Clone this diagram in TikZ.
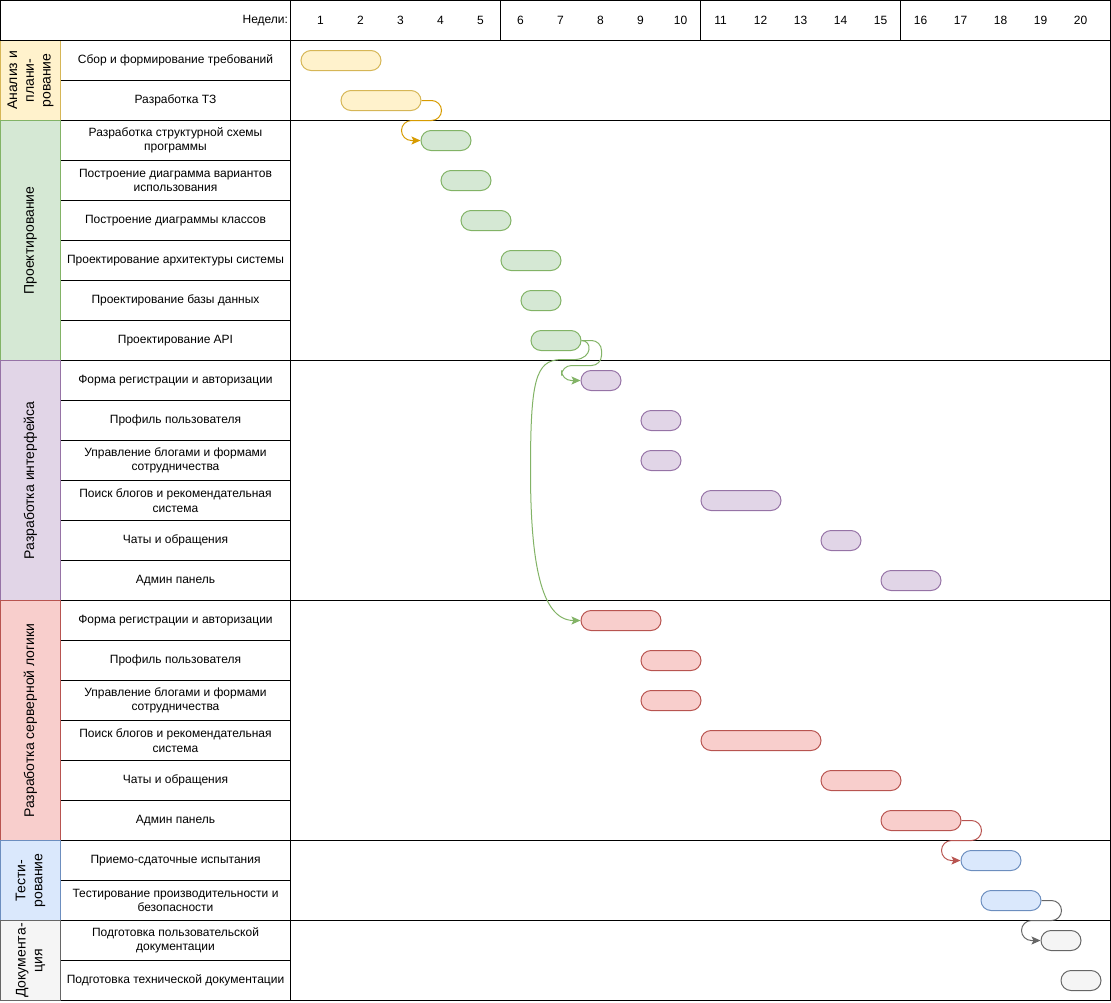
\documentclass[tikz,border=0pt]{standalone}
\usepackage{fontspec}
\setmainfont{Liberation Sans}
\usetikzlibrary{arrows.meta,calc}
\definecolor{yf}{HTML}{FFF2CC}\definecolor{ys}{HTML}{D6B656}
\definecolor{gf}{HTML}{D5E8D4}\definecolor{gs}{HTML}{82B366}
\definecolor{pf}{HTML}{E1D5E7}\definecolor{ps}{HTML}{9673A6}
\definecolor{rf}{HTML}{F8CECC}\definecolor{rs}{HTML}{B85450}
\definecolor{bf}{HTML}{DAE8FC}\definecolor{bs}{HTML}{6C8EBF}
\definecolor{kf}{HTML}{F5F5F5}\definecolor{ks}{HTML}{666666}
\definecolor{os}{HTML}{D79B00}
\begin{document}
\begin{tikzpicture}[x=1pt,y=-1pt,line width=1pt,
  task/.style={draw=black,rectangle,minimum width=230pt,minimum height=40pt,inner sep=0pt,align=center,font=\fontsize{12}{14.4}\selectfont},
  phase/.style={rectangle,minimum height=60pt,inner sep=0pt,rotate=90,align=center,font=\fontsize{14}{16.8}\selectfont},
  wk/.style={inner sep=0pt,font=\fontsize{12}{14.4}\selectfont},
  bar/.style={rectangle,rounded corners=10pt,minimum height=20pt,inner sep=0pt,anchor=west},
  conn/.style={line width=1pt,rounded corners=10pt,-{Stealth[length=9pt,width=8pt,inset=2pt]}}]
\useasboundingbox (0,0) rectangle (1111,1002);
\begin{scope}[shift={(0.5,0.5)}]
% task cells
\node[task] (t1) at (175,60) {Сбор и формирование требований};
\node[task] (t2) at (175,100) {Разработка ТЗ};
\node[task] (t3) at (175,140) {Разработка структурной схемы\\программы};
\node[task] (t4) at (175,180) {Построение диаграмма вариантов\\использования};
\node[task] (t5) at (175,220) {Построение диаграммы классов};
\node[task] (t6) at (175,260) {Проектирование архитектуры системы};
\node[task] (t7) at (175,300) {Проектирование базы данных};
\node[task] (t8) at (175,340) {Проектирование API};
\node[task] (t9) at (175,380) {Форма регистрации и авторизации};
\node[task] (t10) at (175,420) {Профиль пользователя};
\node[task] (t11) at (175,460) {Управление блогами и формами\\сотрудничества};
\node[task] (t12) at (175,500) {Поиск блогов и рекомендательная\\система};
\node[task] (t13) at (175,540) {Чаты и обращения};
\node[task] (t14) at (175,580) {Админ панель};
\node[task] (t15) at (175,620) {Форма регистрации и авторизации};
\node[task] (t16) at (175,660) {Профиль пользователя};
\node[task] (t17) at (175,700) {Управление блогами и формами\\сотрудничества};
\node[task] (t18) at (175,740) {Поиск блогов и рекомендательная\\система};
\node[task] (t19) at (175,780) {Чаты и обращения};
\node[task] (t20) at (175,820) {Админ панель};
\node[task] (t21) at (175,860) {Приемо-сдаточные испытания};
\node[task] (t22) at (175,900) {Тестирование производительности и\\безопасности};
\node[task] (t23) at (175,940) {Подготовка пользовательской\\документации};
\node[task] (t24) at (175,980) {Подготовка технической документации};
% chart areas
\draw (290,40) rectangle (1110,120);
\draw (290,120) rectangle (1110,360);
\draw (290,360) rectangle (1110,600);
\draw (290,600) rectangle (1110,840);
\draw (290,840) rectangle (1110,920);
\draw (290,920) rectangle (1110,1000);
% phase cells
\node[phase,minimum width=80pt,fill=yf,draw=ys] (p1) at (30,80) {Анализ и\\плани-\\рование};
\node[phase,minimum width=240pt,fill=gf,draw=gs] (p2) at (30,240) {Проектирование};
\node[phase,minimum width=240pt,fill=pf,draw=ps] (p3) at (30,480) {Разработка интерфейса};
\node[phase,minimum width=240pt,fill=rf,draw=rs] (p4) at (30,720) {Разработка серверной логики};
\node[phase,minimum width=80pt,fill=bf,draw=bs] (p5) at (30,880) {Тести-\\рование};
\node[phase,minimum width=80pt,fill=kf,draw=ks] (p6) at (30,960) {Документа-\\ция};
% header
\draw (0,0) rectangle (290,40);
\node[wk,anchor=east] (hw) at (288,20) {Недели:};
\draw (290,0) rectangle (500,40);
\draw (500,0) rectangle (700,40);
\draw (700,0) rectangle (900,40);
\draw (900,0) rectangle (1110,40);
\foreach \k in {1,...,20}{\node[wk] (w\k) at ({280+40*\k},20) {\k};}
% bars
\node[bar,minimum width=80pt,fill=yf,draw=ys] (b1) at (300,60) {};
\node[bar,minimum width=80pt,fill=yf,draw=ys] (b2) at (340,100) {};
\node[bar,minimum width=50pt,fill=gf,draw=gs] (b3) at (420,140) {};
\node[bar,minimum width=50pt,fill=gf,draw=gs] (b4) at (440,180) {};
\node[bar,minimum width=50pt,fill=gf,draw=gs] (b5) at (460,220) {};
\node[bar,minimum width=60pt,fill=gf,draw=gs] (b6) at (500,260) {};
\node[bar,minimum width=40pt,fill=gf,draw=gs] (b7) at (520,300) {};
\node[bar,minimum width=50pt,fill=gf,draw=gs] (b8) at (530,340) {};
\node[bar,minimum width=40pt,fill=pf,draw=ps] (b9) at (580,380) {};
\node[bar,minimum width=40pt,fill=pf,draw=ps] (b10) at (640,420) {};
\node[bar,minimum width=40pt,fill=pf,draw=ps] (b11) at (640,460) {};
\node[bar,minimum width=80pt,fill=pf,draw=ps] (b12) at (700,500) {};
\node[bar,minimum width=40pt,fill=pf,draw=ps] (b13) at (820,540) {};
\node[bar,minimum width=60pt,fill=pf,draw=ps] (b14) at (880,580) {};
\node[bar,minimum width=80pt,fill=rf,draw=rs] (b15) at (580,620) {};
\node[bar,minimum width=60pt,fill=rf,draw=rs] (b16) at (640,660) {};
\node[bar,minimum width=60pt,fill=rf,draw=rs] (b17) at (640,700) {};
\node[bar,minimum width=120pt,fill=rf,draw=rs] (b18) at (700,740) {};
\node[bar,minimum width=80pt,fill=rf,draw=rs] (b19) at (820,780) {};
\node[bar,minimum width=80pt,fill=rf,draw=rs] (b20) at (880,820) {};
\node[bar,minimum width=60pt,fill=bf,draw=bs] (b21) at (960,860) {};
\node[bar,minimum width=60pt,fill=bf,draw=bs] (b22) at (980,900) {};
\node[bar,minimum width=40pt,fill=kf,draw=ks] (b23) at (1040,940) {};
\node[bar,minimum width=40pt,fill=kf,draw=ks] (b24) at (1060,980) {};
% connectors
\draw[conn,os] (b2.east) -- ++(20,0) -- ++(0,20) -- ++(-40,0) |- (b3.west);
\draw[conn,gs] (b8.east) -- ++(20,0) -- ++(0,25) -- ++(-40,0) |- (b9.west);
\draw[line width=1pt,gs,-{Stealth[length=9pt,width=8pt,inset=2pt]}] (b8.east) .. controls (592,340) and (592,358) .. (575,359) -- (560,359) .. controls (535,360) and (530,380) .. (530,470) .. controls (530,560) and (540,620) .. (b15.west);
\draw[conn,rs] (b20.east) -- ++(20,0) -- ++(0,20) -- ++(-40,0) |- (b21.west);
\draw[conn,ks] (b22.east) -- ++(20,0) -- ++(0,20) -- ++(-40,0) |- (b23.west);
\end{scope}
\end{tikzpicture}
\end{document}
